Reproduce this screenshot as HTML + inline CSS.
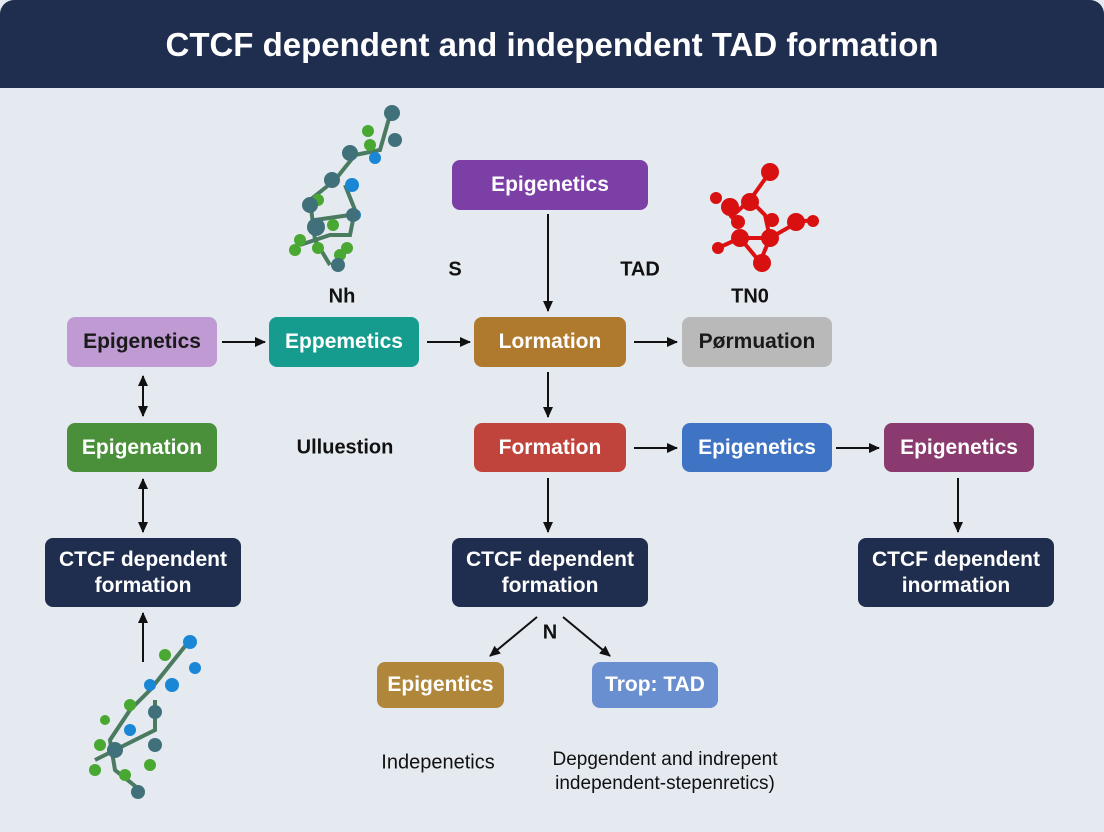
<!DOCTYPE html>
<html><head><meta charset="utf-8"><style>
body{margin:0;width:1104px;height:832px;overflow:hidden;background:#e5e9f0;font-family:"Liberation Sans",sans-serif}
.t{position:absolute;left:0;top:0;width:1104px;height:88px;background:#1f2d4e;border-radius:14px 14px 0 0;color:#fff;font-weight:bold;font-size:33px;text-align:center;line-height:90px}
.b{position:absolute;border-radius:8px;color:#fff;font-weight:bold;font-size:21px;display:flex;align-items:center;justify-content:center;text-align:center;line-height:26px;box-sizing:border-box}
.l{position:absolute;font-size:20px;color:#111;transform:translate(-50%,-50%);white-space:nowrap}
</style></head><body>
<div class="t">CTCF dependent and independent TAD formation</div>
<svg width="1104" height="832" style="position:absolute;left:0;top:0">
<defs><marker id="a" markerUnits="userSpaceOnUse" markerWidth="12" markerHeight="12" refX="10" refY="6" orient="auto-start-reverse"><path d="M0,1 L11,6 L0,11z" fill="#111"/></marker></defs>
<g stroke="#111" stroke-width="2" fill="none" marker-end="url(#a)">
<line x1="222" y1="342" x2="265" y2="342"/>
<line x1="427" y1="342" x2="470" y2="342"/>
<line x1="634" y1="342" x2="677" y2="342"/>
<line x1="143" y1="376" x2="143" y2="416" marker-start="url(#a)"/>
<line x1="143" y1="479" x2="143" y2="532" marker-start="url(#a)"/>
<line x1="143" y1="662" x2="143" y2="613"/>
<line x1="548" y1="214" x2="548" y2="311"/>
<line x1="548" y1="372" x2="548" y2="417"/>
<line x1="634" y1="448" x2="677" y2="448"/>
<line x1="836" y1="448" x2="879" y2="448"/>
<line x1="548" y1="478" x2="548" y2="532"/>
<line x1="958" y1="478" x2="958" y2="532"/>
<line x1="537" y1="617" x2="490" y2="656"/>
<line x1="563" y1="617" x2="610" y2="656"/>
</g>
<g stroke="#4a7a60" stroke-width="4" fill="none">
<path d="M390 115 L380 150 L355 155 L335 180 L310 200 L315 240 L330 265 M345 185 L355 210 L350 235 L330 235 L300 245 M315 220 L350 215"/>
<path d="M190 640 L170 665 L150 690 L130 710 L110 740 L115 770 L140 790 M155 700 L155 730 L125 745 L95 760"/>
</g>
<g fill="#48a832"><circle cx="368" cy="131" r="6"/><circle cx="370" cy="145" r="6"/><circle cx="318" cy="200" r="6"/><circle cx="300" cy="240" r="6"/><circle cx="295" cy="250" r="6"/><circle cx="318" cy="248" r="6"/><circle cx="340" cy="255" r="6"/><circle cx="333" cy="225" r="6"/><circle cx="347" cy="248" r="6"/>
<circle cx="165" cy="655" r="6"/><circle cx="130" cy="705" r="6"/><circle cx="100" cy="745" r="6"/><circle cx="95" cy="770" r="6"/><circle cx="125" cy="775" r="6"/><circle cx="150" cy="765" r="6"/><circle cx="105" cy="720" r="5"/></g>
<g fill="#1a86d6"><circle cx="375" cy="158" r="6"/><circle cx="352" cy="185" r="7"/><circle cx="355" cy="215" r="6"/><circle cx="190" cy="642" r="7"/><circle cx="195" cy="668" r="6"/><circle cx="172" cy="685" r="7"/><circle cx="150" cy="685" r="6"/><circle cx="130" cy="730" r="6"/></g>
<g fill="#40707a"><circle cx="392" cy="113" r="8"/><circle cx="395" cy="140" r="7"/><circle cx="350" cy="153" r="8"/><circle cx="332" cy="180" r="8"/><circle cx="310" cy="205" r="8"/><circle cx="316" cy="227" r="9"/><circle cx="353" cy="215" r="7"/><circle cx="338" cy="265" r="7"/>
<circle cx="155" cy="712" r="7"/><circle cx="115" cy="750" r="8"/><circle cx="155" cy="745" r="7"/><circle cx="138" cy="792" r="7"/></g>
<g stroke="#d11" stroke-width="4" fill="none"><path d="M770 172 L750 200 L730 218 M750 200 L765 215 L770 238 L798 222 L812 220 M770 238 L740 238 L718 248 M740 238 L760 262 L770 238"/></g>
<g fill="#d81010"><circle cx="770" cy="172" r="9"/><circle cx="716" cy="198" r="6"/><circle cx="730" cy="207" r="9"/><circle cx="750" cy="202" r="9"/><circle cx="738" cy="222" r="7"/><circle cx="772" cy="220" r="7"/><circle cx="796" cy="222" r="9"/><circle cx="813" cy="221" r="6"/><circle cx="740" cy="238" r="9"/><circle cx="770" cy="238" r="9"/><circle cx="718" cy="248" r="6"/><circle cx="762" cy="263" r="9"/></g>
</svg>
<div class="b" style="left:452px;top:160px;width:196px;height:50px;background:#7b3fa6">Epigenetics</div>
<div class="b" style="left:67px;top:317px;width:150px;height:50px;background:#c09bd3;color:#1a1a1a">Epigenetics</div>
<div class="b" style="left:269px;top:317px;width:150px;height:50px;background:#169c8f">Eppemetics</div>
<div class="b" style="left:474px;top:317px;width:152px;height:50px;background:#b07a2e">Lormation</div>
<div class="b" style="left:682px;top:317px;width:150px;height:50px;background:#b9b9b9;color:#1a1a1a">Pørmuation</div>
<div class="b" style="left:67px;top:423px;width:150px;height:49px;background:#4a8f3a">Epigenation</div>
<div class="b" style="left:474px;top:423px;width:152px;height:49px;background:#c0443c">Formation</div>
<div class="b" style="left:682px;top:423px;width:150px;height:49px;background:#3f73c4">Epigenetics</div>
<div class="b" style="left:884px;top:423px;width:150px;height:49px;background:#8a3a6e">Epigenetics</div>
<div class="b" style="left:45px;top:538px;width:196px;height:69px;background:#1f2d4e">CTCF dependent<br>formation</div>
<div class="b" style="left:452px;top:538px;width:196px;height:69px;background:#1f2d4e">CTCF dependent<br>formation</div>
<div class="b" style="left:858px;top:538px;width:196px;height:69px;background:#1f2d4e">CTCF dependent<br>inormation</div>
<div class="b" style="left:377px;top:662px;width:127px;height:46px;background:#b0873a">Epigentics</div>
<div class="b" style="left:592px;top:662px;width:126px;height:46px;background:#6a8fd0">Trop: TAD</div>
<div class="l" style="left:342px;top:297px;font-weight:bold">Nh</div>
<div class="l" style="left:455px;top:270px;font-weight:bold">S</div>
<div class="l" style="left:640px;top:270px;font-weight:bold">TAD</div>
<div class="l" style="left:750px;top:297px;font-weight:bold">TN0</div>
<div class="l" style="left:345px;top:448px;font-weight:bold">Ulluestion</div>
<div class="l" style="left:550px;top:633px;font-weight:bold">N</div>
<div class="l" style="left:438px;top:763px">Indepenetics</div>
<div class="l" style="left:665px;top:772px;text-align:center;font-size:19px;line-height:24px">Depgendent and indrepent<br>independent-stepenretics)</div>
</body></html>
